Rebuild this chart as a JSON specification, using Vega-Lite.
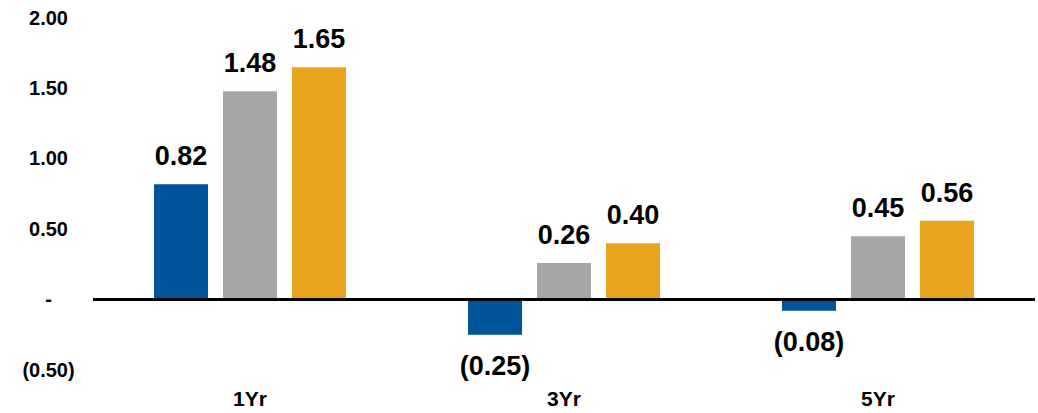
{
  "$schema": "https://vega.github.io/schema/vega-lite/v6.json",
  "width": 942,
  "height": 352,
  "autosize": "none",
  "padding": {"left": 93, "top": 18, "right": 3, "bottom": 43},
  "background": "white",
  "config": {
    "view": {"stroke": null},
    "font": "Liberation Sans"
  },
  "data": {
    "values": [
      {"period": "1Yr", "series": "Series 1", "value": 0.82},
      {"period": "1Yr", "series": "Series 2", "value": 1.48},
      {"period": "1Yr", "series": "Series 3", "value": 1.65},
      {"period": "3Yr", "series": "Series 1", "value": -0.25},
      {"period": "3Yr", "series": "Series 2", "value": 0.26},
      {"period": "3Yr", "series": "Series 3", "value": 0.40},
      {"period": "5Yr", "series": "Series 1", "value": -0.08},
      {"period": "5Yr", "series": "Series 2", "value": 0.45},
      {"period": "5Yr", "series": "Series 3", "value": 0.56}
    ]
  },
  "transform": [
    {"calculate": "datum.value < 0 ? '(' + format(-datum.value, '.2f') + ')' : format(datum.value, '.2f')", "as": "label"}
  ],
  "encoding": {
    "x": {
      "field": "period", "type": "nominal", "sort": ["1Yr", "3Yr", "5Yr"],
      "scale": {"paddingInner": 0, "paddingOuter": 0},
      "axis": {"title": null, "labelAngle": 0, "domain": false, "ticks": false, "tickSize": 0,
               "labelFontSize": 21, "labelFontWeight": "bold", "labelColor": "#000000", "labelPadding": 18}
    },
    "xOffset": {
      "field": "series", "type": "nominal",
      "scale": {"paddingInner": 0.2174, "paddingOuter": 0.884}
    },
    "y": {
      "field": "value", "type": "quantitative",
      "scale": {"domain": [-0.5, 2], "nice": false, "zero": false},
      "axis": {"title": null, "grid": false, "domain": false, "ticks": false, "tickSize": 0,
               "values": [-0.5, 0, 0.5, 1, 1.5, 2],
               "labelExpr": "datum.value == 0 ? '\u00a0\u00a0-' : (datum.value < 0 ? '(' + format(-datum.value, '.2f') + ')' : format(datum.value, '.2f'))",
               "labelAlign": "center", "labelPadding": 45, "labelFontSize": 20, "labelFontWeight": "bold", "labelColor": "#000000"}
    }
  },
  "layer": [
    {
      "mark": {"type": "bar"},
      "encoding": {
        "color": {
          "field": "series", "type": "nominal", "legend": null,
          "scale": {"domain": ["Series 1", "Series 2", "Series 3"], "range": ["#00559A", "#A6A6A6", "#E8A41D"]}
        }
      }
    },
    {
      "transform": [{"filter": "datum.value >= 0"}],
      "mark": {"type": "text", "baseline": "middle", "dy": -27, "fontSize": 27, "fontWeight": "bold", "color": "#000000"},
      "encoding": {"text": {"field": "label"}}
    },
    {
      "transform": [{"filter": "datum.value < 0"}],
      "mark": {"type": "text", "baseline": "middle", "dy": 32, "fontSize": 27, "fontWeight": "bold", "color": "#000000"},
      "encoding": {"text": {"field": "label"}}
    },
    {
      "data": {"values": [{"z": 0}]},
      "mark": {"type": "rule", "color": "#000000", "strokeWidth": 3},
      "encoding": {"y": {"field": "z", "type": "quantitative"}, "x": null, "xOffset": null}
    }
  ]
}
